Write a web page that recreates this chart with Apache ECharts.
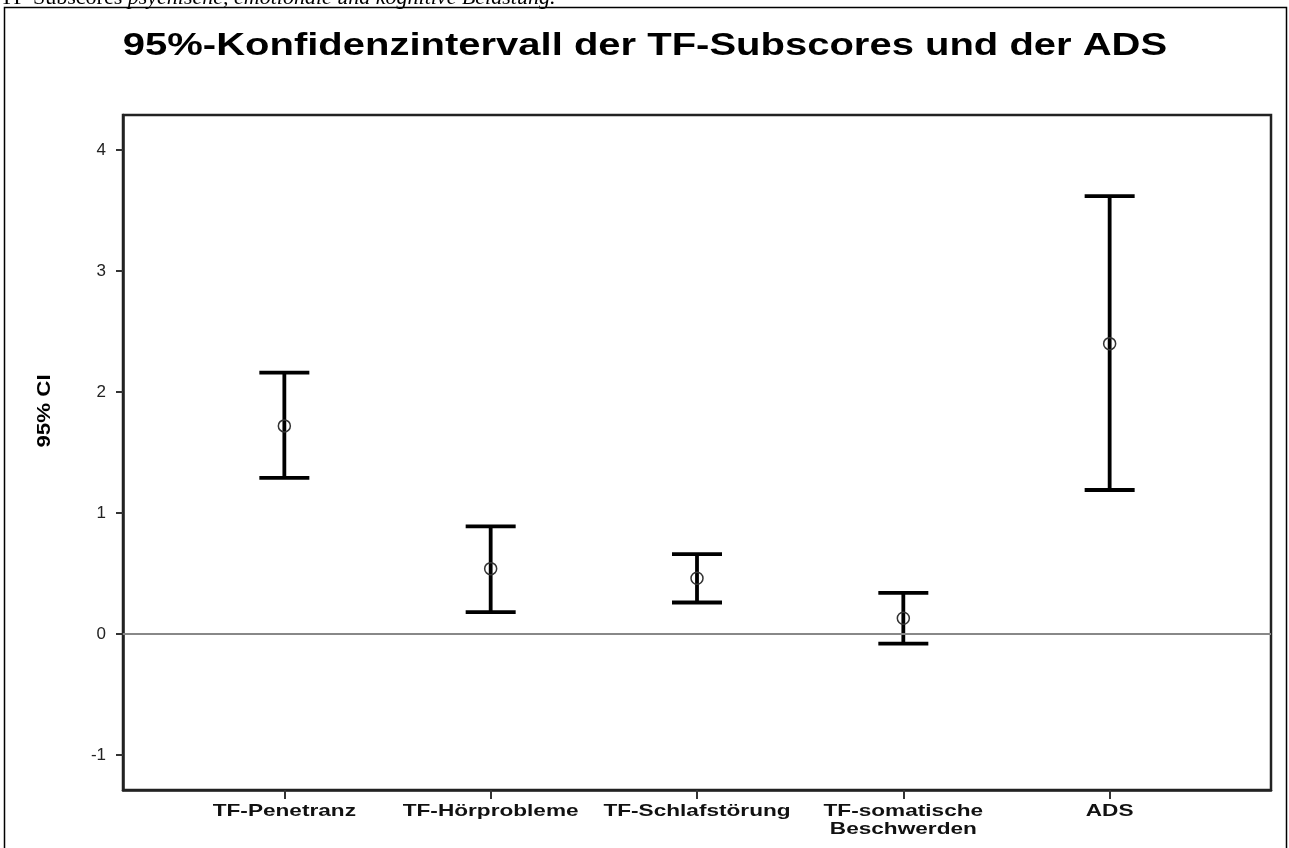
<!DOCTYPE html>
<html>
<head>
<meta charset="utf-8">
<script src="https://cdn.jsdelivr.net/npm/echarts@6/dist/echarts.min.js"></script>
<style>
  html, body { margin: 0; padding: 0; background: #fff; }
  #chart { width: 1289px; height: 848px; }
</style>
</head>
<body>
<div id="chart"></div>
<script>
// Kategorien und 95%-KI-Werte
const categories = ['TF-Penetranz', 'TF-Hörprobleme', 'TF-Schlafstörung', 'TF-somatische\nBeschwerden', 'ADS'];
const means = [1.72, 0.54, 0.46, 0.13, 2.40];
const lower = [1.29, 0.18, 0.26, -0.08, 1.19];
const upper = [2.16, 0.89, 0.66, 0.34, 3.62];
const yTicks = [-1, 0, 1, 2, 3, 4];
const xPos = categories.map((c, i) => i + 1);

const Y_MIN = -1.29;
const Y_MAX = 4.29;

const ciData = xPos.map((x, i) => [x, lower[i], upper[i], means[i]]);

const myChart = echarts.init(document.getElementById('chart'));

myChart.setOption({
  animation: false,
  backgroundColor: '#fff',
  graphic: [
    {
      type: 'rect',
      shape: { x: 4.5, y: 7.5, width: 1282, height: 860 },
      style: { fill: 'none', stroke: '#000', lineWidth: 1.5 },
      silent: true
    },
    {
      type: 'text',
      x: 0,
      y: 9,
      silent: true,
      style: {
        text: '{a|TF-Subscores }{b|psychische, emotionale und kognitive Belastung.}',
        verticalAlign: 'bottom',
        rich: {
          a: { fontFamily: 'Liberation Serif', fontSize: 22, fill: '#000' },
          b: { fontFamily: 'Liberation Serif', fontSize: 22, fontStyle: 'italic', fill: '#000' }
        }
      }
    },
    {
      // Titel (SPSS-Schrift ist breiter gesetzt)
      type: 'text',
      x: 645,
      y: 46,
      scaleX: 1.29,
      silent: true,
      style: {
        text: '95%-Konfidenzintervall der TF-Subscores und der ADS',
        align: 'center',
        verticalAlign: 'middle',
        font: 'bold 31px "Liberation Sans"',
        fill: '#000'
      }
    },
    {
      type: 'text',
      x: 45,
      y: 411,
      rotation: Math.PI / 2,
      scaleX: 1.24,
      silent: true,
      style: {
        text: '95% CI',
        align: 'center',
        verticalAlign: 'middle',
        font: 'bold 18px "Liberation Sans"',
        fill: '#000'
      }
    }
  ],
  grid: {
    left: 123,
    top: 115,
    right: 18,
    bottom: 58,
    show: true,
    borderColor: '#222',
    borderWidth: 2.5
  },
  xAxis: {
    type: 'value',
    min: 0.218,
    max: 5.782,
    splitLine: { show: false },
    axisLine: { show: true, onZero: false, lineStyle: { color: '#222', width: 2.5 } },
    axisTick: {
      show: true,
      customValues: xPos,
      length: 9,
      lineStyle: { color: '#333', width: 2 }
    },
    axisLabel: { show: false }
  },
  yAxis: {
    type: 'value',
    min: Y_MIN,
    max: Y_MAX,
    splitLine: { show: false },
    axisLine: { show: true, onZero: false, lineStyle: { color: '#222', width: 2.5 } },
    axisTick: {
      show: true,
      customValues: yTicks,
      length: 7,
      lineStyle: { color: '#333', width: 2 }
    },
    axisLabel: {
      customValues: yTicks,
      margin: 17,
      fontFamily: 'Liberation Sans',
      fontSize: 17,
      color: '#222'
    }
  },
  series: [
    {
      type: 'custom',
      data: ciData,
      encode: { x: 0, y: [1, 2, 3] },
      renderItem: (params, api) => {
        const lo = api.coord([api.value(0), api.value(1)]);
        const hi = api.coord([api.value(0), api.value(2)]);
        const mid = api.coord([api.value(0), api.value(3)]);
        const half = 25;
        const lineStyle = { stroke: '#000', lineWidth: 3.8 };
        return {
          type: 'group',
          children: [
            { type: 'line', shape: { x1: hi[0], y1: hi[1], x2: lo[0], y2: lo[1] }, style: lineStyle },
            { type: 'line', shape: { x1: hi[0] - half, y1: hi[1], x2: hi[0] + half, y2: hi[1] }, style: lineStyle },
            { type: 'line', shape: { x1: lo[0] - half, y1: lo[1], x2: lo[0] + half, y2: lo[1] }, style: lineStyle },
            { type: 'circle', shape: { cx: mid[0], cy: mid[1], r: 6 }, style: { fill: 'none', stroke: '#333', lineWidth: 1.5 } }
          ]
        };
      },
      markLine: {
        silent: true,
        symbol: 'none',
        label: { show: false },
        lineStyle: { color: '#888', width: 2, type: 'solid' },
        data: [{ yAxis: 0 }]
      },
      z: 3
    },
    {
      // Kategorienbeschriftung unter der x-Achse (breit gesetzt wie im Original)
      type: 'custom',
      silent: true,
      data: xPos.map((x) => [x, Y_MIN]),
      encode: { x: 0, y: 1 },
      renderItem: (params, api) => {
        const p = api.coord([api.value(0), api.value(1)]);
        return {
          type: 'text',
          x: p[0],
          y: p[1] + 12,
          scaleX: 1.33,
          style: {
            text: categories[params.dataIndex],
            align: 'center',
            verticalAlign: 'top',
            font: 'bold 17px "Liberation Sans"',
            lineHeight: 18,
            fill: '#111'
          }
        };
      }
    }
  ]
});

window.onresize = () => myChart.resize();
</script>
</body>
</html>
